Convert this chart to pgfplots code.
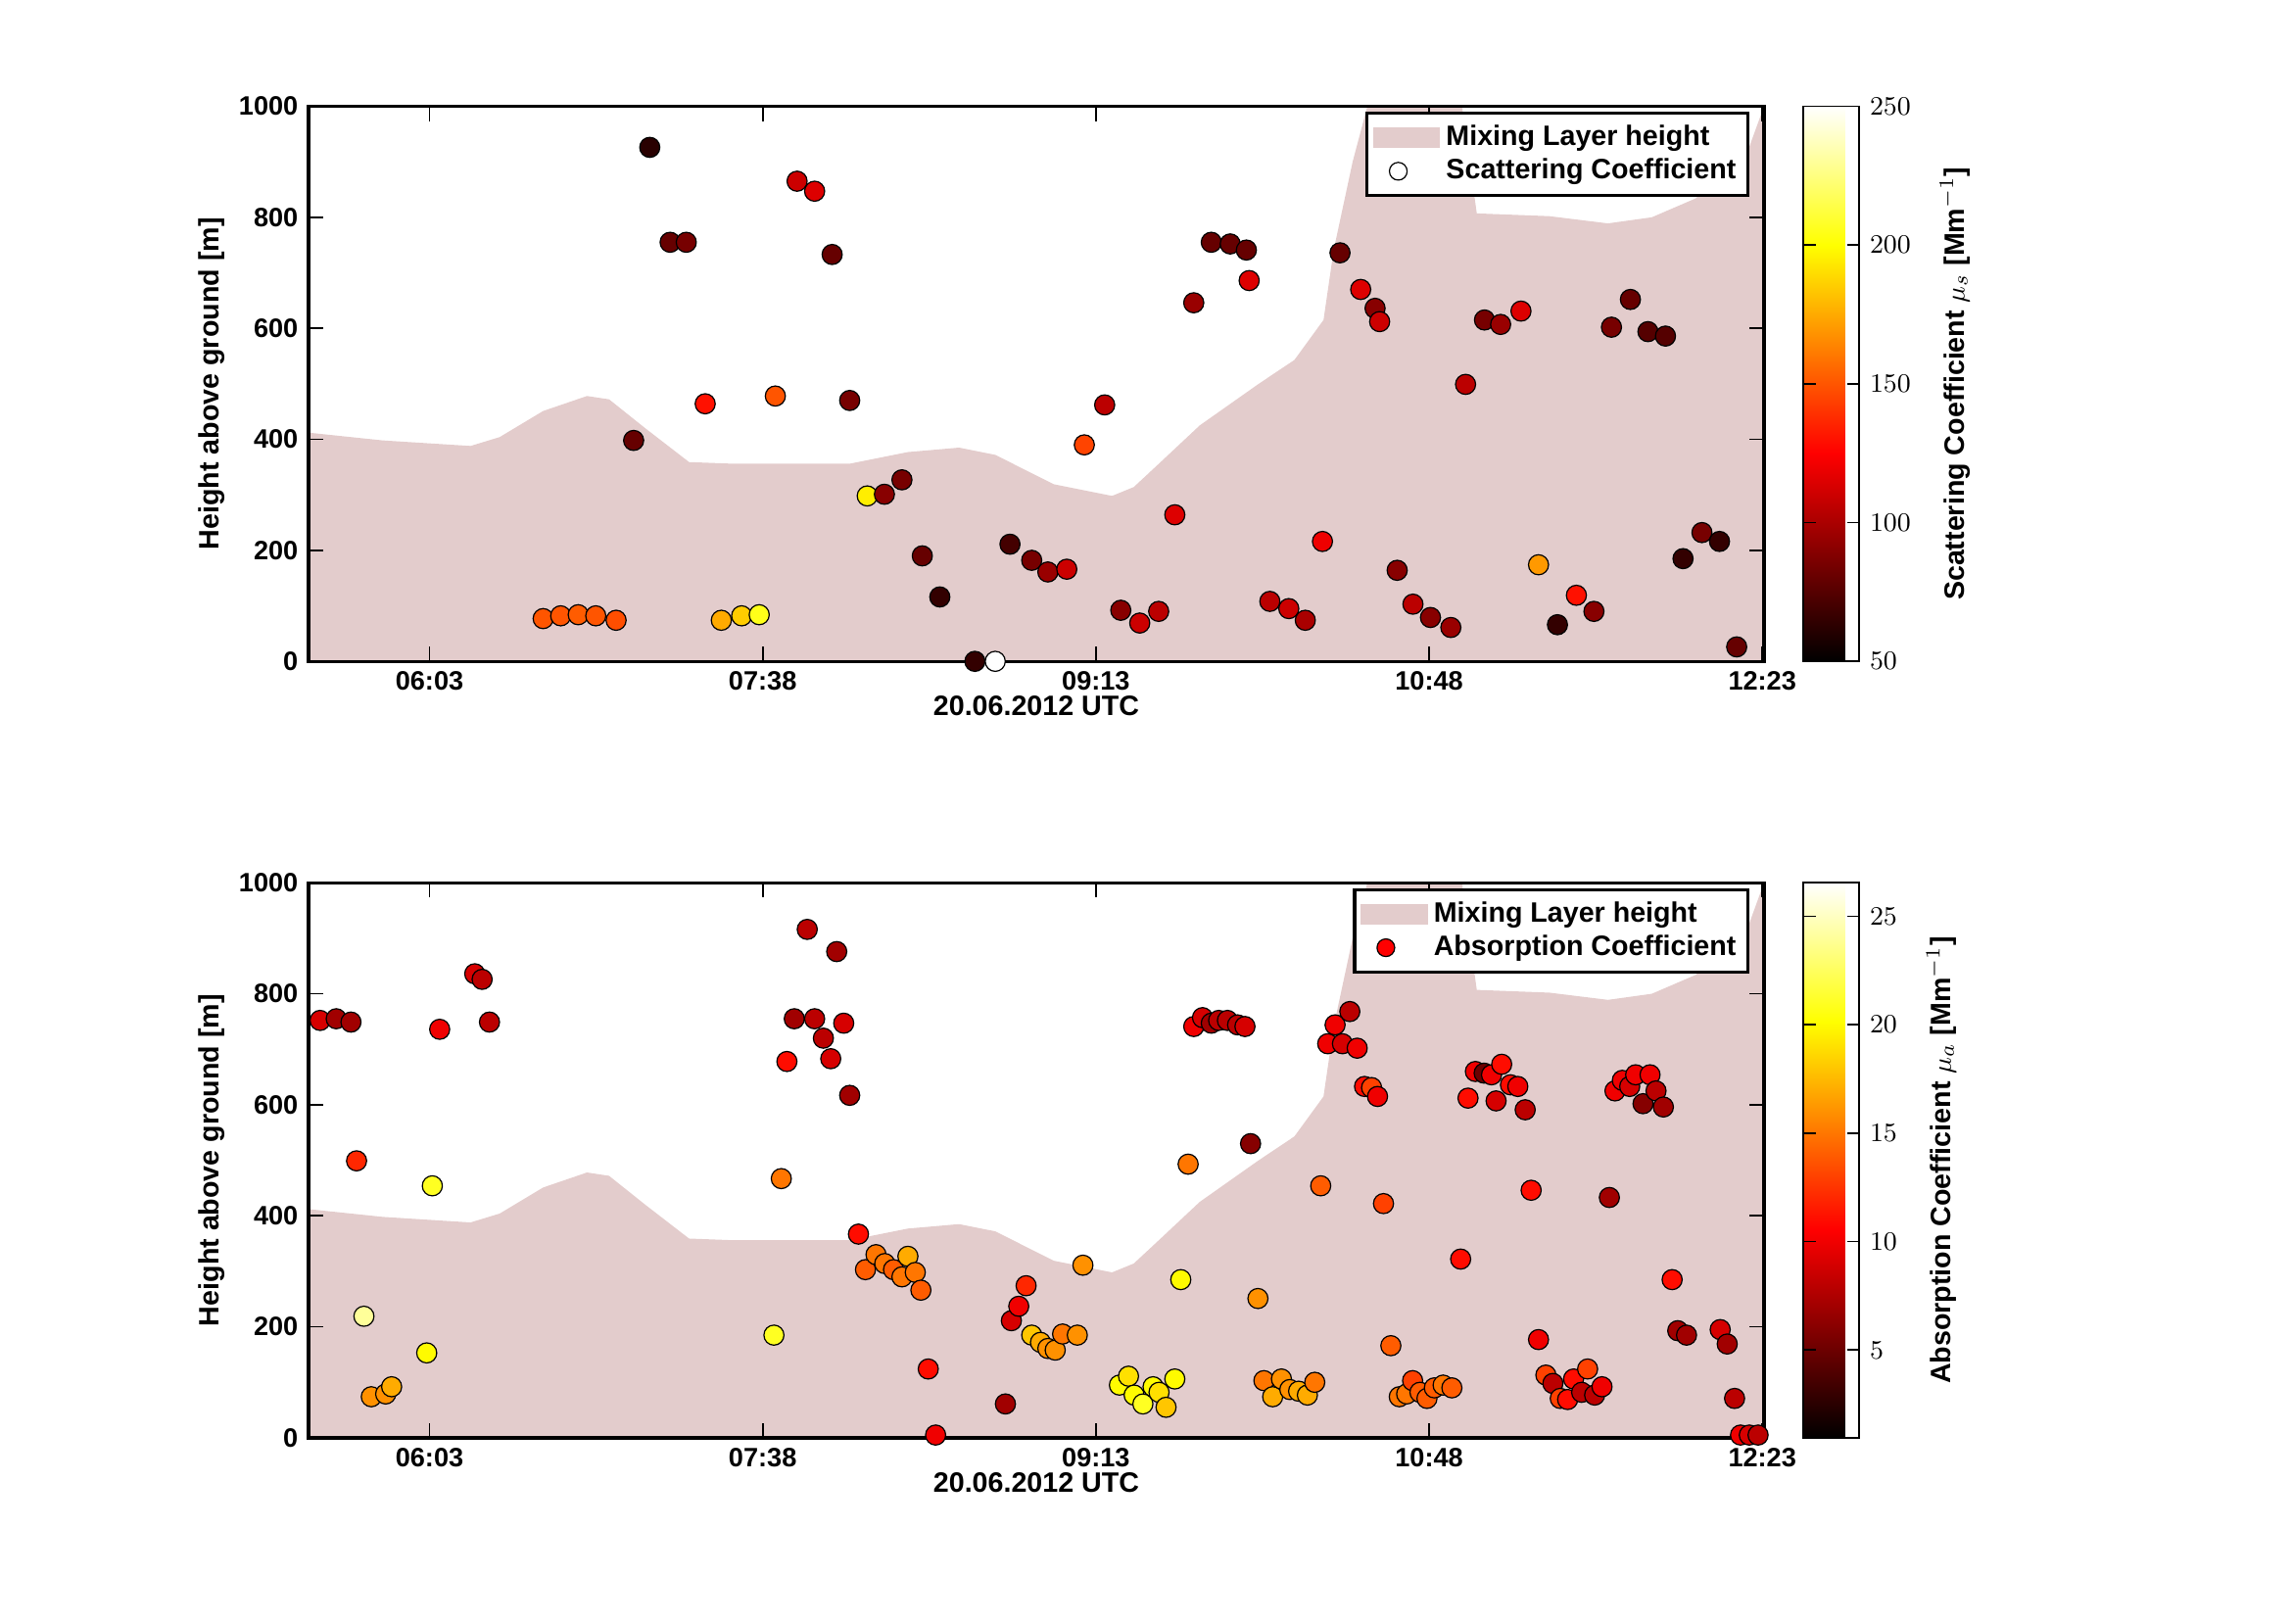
\documentclass[border=0pt]{standalone}
\usepackage{pgfplots}
\usepackage{pgfplotstable}
\pgfplotsset{compat=1.18}
\usepackage{fontspec}
\setmainfont{Liberation Sans}
\definecolor{mlh}{RGB}{227,204,204}
\pgfplotstableread{
t h
328.5 412
349.7 398
374.7 388
383 404
395.4 451
407.9 478
414.2 472
424.5 420
437 359
449.5 356
482.8 356
499.4 377
514 385
524.3 372
541 319
557.6 298
563.8 314
570.1 351
582.6 425
599.2 499
609.6 543
617.9 615
620.8 741
626.2 900
630.4 1000
657.4 1000
661.6 807
682.3 802
699 789
711.5 800
724 834
738.5 913
743.5 1000
}\mlhdata
\pgfplotstableread{
t h c
395.4 77 150
400.4 82 150
405.4 84 152
410.4 82 150
416.2 74 148
421.2 398 80
425.8 926 62
431.6 755 80
436.2 755 85
441.6 464 130
446.2 74 175
452 82 185
457 84 205
461.6 478 150
467.8 865 110
472.8 847 115
477.8 733 80
482.8 470 85
487.8 298 195
492.7 301 90
497.7 327 85
503.5 190 80
508.5 116 65
518.5 0 65
524.3 0 250
528.5 211 70
534.7 182 85
539.3 161 95
544.7 166 110
549.7 390 145
555.5 462 105
560.1 92 90
565.5 69 110
570.9 90 105
575.5 264 115
580.9 646 95
585.9 755 80
591.3 752 80
595.9 741 80
596.7 686 115
602.6 108 105
608 95 110
612.7 74 100
617.6 216 120
622.6 736 80
628.5 670 115
632.6 636 90
633.9 612 110
638.9 164 90
643.4 103 105
648.4 79 90
654.2 61 95
658.4 499 105
663.8 615 85
668.4 607 95
674.2 631 115
679.2 174 170
684.6 66 65
690 119 130
695 90 90
700 602 85
705.4 652 80
710.4 594 75
715.4 586 75
720.4 185 65
725.8 232 85
730.8 216 65
735.7 26 80
}\scat
\pgfplotstableread{
t h c
331.8 752 9
336.4 755 7
340.6 749 7
342.2 499 12
344.3 219 24
346.4 74 16
350.5 79 16
352.2 92 17
362.2 153 20
363.8 454 21
365.9 736 10
375.9 836 9
378 826 8
380.1 749 8
461.2 185 21
463.3 467 15
464.9 678 11
467 755 7
470.7 916 8
472.8 755 8
475.3 720 8
477.4 683 9
479.1 876 7
481.1 747 9
482.8 617 7
485.3 367 11
487.3 303 14
490.3 330 15
492.8 314 15
495.3 303 14
497.7 290 15
499.4 327 17
501.5 298 15
503.1 266 14
505.2 124 11
507.3 5 10
527.2 61 7
528.9 211 9
531 237 10
533.1 274 12
534.7 185 18
537.2 172 17
539.3 161 16
541.4 158 16
543.5 187 15
547.7 185 16
549.3 311 16
559.7 95 20
562.3 111 19
563.9 77 20
566.4 61 21
569.3 92 20
571 82 19
573 55 18
575.5 106 20
577.2 285 20
579.3 493 15
580.9 741 10
583.4 757 9
585.9 747 7
588 752 8
590.5 752 8
593.4 744 8
595.5 741 9
597.1 530 6
599.2 251 16
600.9 103 15
603.4 74 17
605.9 106 16
608.3 87 16
610.8 84 17
613.3 77 17
615.4 100 15
617.1 454 14
619.1 710 10
621.2 744 10
623.3 710 9
625.4 768 8
627.5 702 10
629.6 633 11
631.6 631 13
633.3 615 10
635 422 13
637.1 166 14
639.5 74 15
641.6 79 15
643.3 103 13
645.4 82 14
647.4 71 14
649.5 90 14
652 95 15
654.5 90 14
657 322 11
659.1 612 11
661.2 660 10
663.7 657 5
665.8 654 10
667.1 607 9
668.7 673 11
671.2 636 11
673.3 633 10
675.4 591 8
677.1 446 11
679.2 177 10
681.3 113 13
683.3 98 8
685.4 71 13
687.5 69 11
689.2 106 11
691.5 82 8
693.2 124 13
695.2 77 8
697.3 92 10
699.4 433 7
701 625 10
703.1 644 10
705.2 633 9
706.9 654 10
709 602 6
711 654 10
712.7 625 8
714.8 596 7
717.3 285 11
718.9 193 7
721.4 185 7
731 195 9
733 169 7
735.1 71 8
736.8 5 10
739.3 5 9
741.8 5 8
743.9 5 7
}\absd
\pgfplotsset{
  colormap={mhot}{rgb255(0cm)=(0,0,0); rgb255(3cm)=(255,0,0); rgb255(6cm)=(255,255,0); rgb255(8cm)=(255,255,255)},
  myax/.style={
    scale only axis, width=493pt, height=188pt,
    xmin=328.5, xmax=743.5, ymin=0, ymax=1000,
    xtick={363,458,553,648,743},
    xticklabels={06:03,07:38,09:13,10:48,12:23},
    ytick={0,200,...,1000},
    /pgf/number format/1000 sep={},
    tick align=inside, axis on top,
    axis line style={line width=1.1pt},
    every tick/.style={black, line width=0.6pt},
    major tick length=5pt,
    tick label style={font=\fontsize{9}{10}\selectfont\bfseries},
    label style={font=\fontsize{9.5}{11}\selectfont\bfseries},
    /pgf/number format/assume math mode=true,
    xlabel={20.06.2012 UTC}, ylabel={Height above ground [m]},
    xlabel style={yshift=5pt},
    ylabel style={yshift=-2pt},
    colormap name=mhot, colorbar,
    colorbar style={at={(1.027,1)}, anchor=north west, width=19pt,
      tick align=inside, axis line style={line width=0.6pt},
      tick label style={font=\fontsize{9}{10}\selectfont\bfseries},
      ylabel style={font=\fontsize{9.5}{11}\selectfont\bfseries, yshift=-3pt}},
    legend style={at={(0.99,0.99)}, anchor=north east, draw=black, line width=1.1pt,
      font=\fontsize{9.5}{11}\selectfont\bfseries, row sep=-1pt, inner sep=2pt},
    legend cell align=left,
  },
  sc/.style={scatter, only marks, mark=*, mark size=3.4pt, point meta=explicit,
    scatter/use mapped color={draw=black, fill=mapped color, line width=0.4pt}, forget plot},
  mlhleg/.style={legend image code/.code={\fill[mlh] (0cm,-0.12cm) rectangle (0.8cm,0.12cm);}},
}
\begin{document}
\begin{tikzpicture}
\path (0,0) rectangle (776pt,550pt);
\begin{axis}[myax, at={(104.5pt,326pt)}, point meta min=50, point meta max=250,
  colorbar style={ytick={50,100,...,250}, ylabel={Scattering Coefficient $\mu_s$ [Mm$^{-1}$]}}]
\addplot[fill=mlh, draw=none, mlhleg] table[x=t,y=h]{\mlhdata} \closedcycle;
\addlegendentry{Mixing Layer height}
\addplot[sc] table[x=t,y=h,meta=c]{\scat};
\addlegendimage{only marks, mark=*, mark size=3pt, mark options={fill=white, draw=black, line width=0.4pt}}
\addlegendentry{Scattering Coefficient}
\end{axis}
\begin{axis}[myax, at={(104.5pt,63pt)}, point meta min=0.95, point meta max=26.55,
  colorbar style={ytick={5,10,...,25}, ylabel={Absorption Coefficient $\mu_a$ [Mm$^{-1}$]}}]
\addplot[fill=mlh, draw=none, mlhleg] table[x=t,y=h]{\mlhdata} \closedcycle;
\addlegendentry{Mixing Layer height}
\addplot[sc] table[x=t,y=h,meta=c]{\absd};
\addlegendimage{only marks, mark=*, mark size=3pt, mark options={fill=red, draw=black, line width=0.4pt}}
\addlegendentry{Absorption Coefficient}
\end{axis}
\end{tikzpicture}
\end{document}
